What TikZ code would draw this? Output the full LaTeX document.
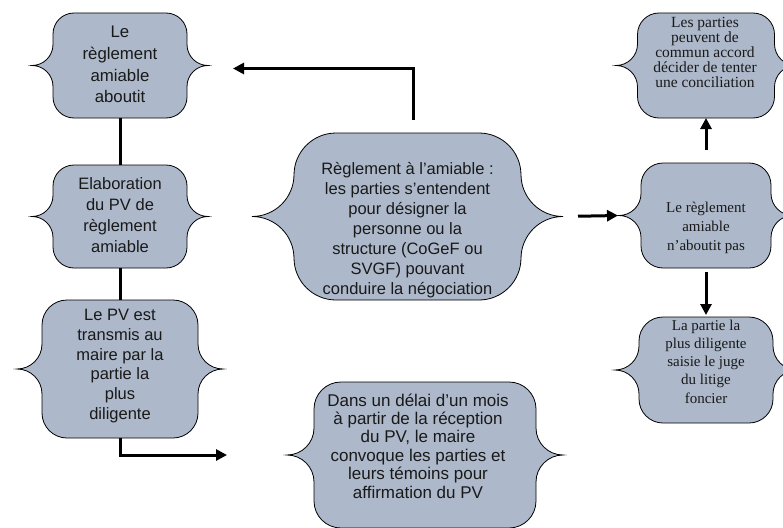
\documentclass[tikz,border=0pt]{standalone}
\usepackage{fontspec}
\setmainfont{Liberation Sans}
\newfontfamily\tms{Liberation Serif}
\usetikzlibrary{arrows.meta}
\definecolor{boxfill}{HTML}{ADB9CA}

% Double-brace box: name, left tip x, top y, right tip x, bottom y, brace radius
% (pixel-style coordinates, y measured downwards)
\newcommand\bracebox[6]{%
  \draw[bracestyle] ({#2+2*#6},{-#3}) arc[start angle=90,end angle=180,radius=#6]
    -- ({#2+#6},{-(#3+#5)/2+#6}) arc[start angle=0,end angle=-90,radius=#6]
    arc[start angle=90,end angle=0,radius=#6]
    -- ({#2+#6},{-#5+#6}) arc[start angle=180,end angle=270,radius=#6]
    -- ({#4-2*#6},{-#5}) arc[start angle=270,end angle=360,radius=#6]
    -- ({#4-#6},{-(#3+#5)/2-#6}) arc[start angle=180,end angle=90,radius=#6]
    arc[start angle=270,end angle=180,radius=#6]
    -- ({#4-#6},{-#3-#6}) arc[start angle=0,end angle=90,radius=#6] -- cycle;
  \node[frame, minimum width={(#4-#2)*1pt}, minimum height={(#5-#3)*1pt}]
    (#1) at ({(#2+#4)/2},{-(#3+#5)/2}) {};
}

\tikzset{
  bracestyle/.style={fill=boxfill, draw=black, line width=0.8pt},
  frame/.style={draw=none, inner sep=0pt, outer sep=0pt},
  sans/.style={align=center, inner sep=0pt, text=black!90},
  serif/.style={align=center, inner sep=0pt, text=black!90},
  link/.style={line width=3pt},
  arrowlink/.style={line width=3pt, -{Triangle[length=11pt,width=11pt]}},
}

\begin{document}
\begin{tikzpicture}[x=1pt, y=1pt]
\useasboundingbox (0,0) rectangle (783,-527);

% left column
\bracebox{l1}{32}{13}{208}{118}{21}
\bracebox{l2}{32}{165}{208}{268}{21}
\bracebox{l3}{17}{300}{223}{438}{25}
% centre
\bracebox{c}{252}{133}{563}{300}{42}
\bracebox{b}{287}{382}{563}{528}{27}
% right column
\bracebox{r1}{616}{13}{796}{118}{21.5}
\bracebox{r2}{619}{163}{793}{268}{22}
\bracebox{r3}{615}{317}{797}{423}{24}

% texts
\node[sans, font=\fontsize{16.8}{21.7}\selectfont] (l1t) at (120,-64.5)
  {Le\\règlement\\amiable\\aboutit};
\node[sans, font=\fontsize{16.5}{21}\selectfont] (l2t) at (120,-215)
  {Elaboration\\du PV de\\règlement\\amiable};
\node[sans, font=\fontsize{16.5}{19.7}\selectfont] (l3t) at (120,-366)
  {Le PV est\\transmis au\\maire par la\\partie la\\plus\\diligente};
\node[sans, font=\fontsize{16.5}{20}\selectfont] (ct) at (407.5,-230)
  {Règlement à l’amiable :\\les parties s’entendent\\pour désigner la\\personne ou la\\structure (CoGeF ou\\SVGF) pouvant\\conduire la négociation};
\node[sans, font=\fontsize{17}{18.4}\selectfont] (bt) at (418,-446)
  {Dans un délai d’un mois\\à partir de la réception\\du PV, le maire\\convoque les parties et\\leurs témoins pour\\affirmation du PV};
\node[serif, font=\tms\fontsize{15.5}{15}\selectfont] (r1t) at (705,-52)
  {Les parties\\peuvent de\\commun accord\\décider de tenter\\une conciliation};
\node[serif, font=\tms\fontsize{15}{19.3}\selectfont] (r2t) at (706,-228)
  {Le règlement\\amiable\\n’aboutit pas};
\node[serif, font=\tms\fontsize{15}{18.3}\selectfont] (r3t) at (706,-361.5)
  {La partie la\\plus diligente\\saisie le juge\\du litige\\foncier};

% connectors
\draw[link] (l1.south) -- (l2.north);
\draw[link] (l2.south) -- (l3.north);
\draw[arrowlink, shorten >=60pt] (l3.south) |- (b.west);
\draw[arrowlink, shorten <=13pt, shorten >=25pt]
  ([xshift=5.5pt]c.north) |- ([yshift=-3pt]l1.east);
\draw[arrowlink, shorten <=15pt, shorten >=1pt] (c.east) -- (r2.west);
\draw[arrowlink, shorten <=13pt] (r2.north) -- (r1.south);
\draw[arrowlink, shorten <=4pt, shorten >=2pt] (r2.south) -- (r3.north);
\end{tikzpicture}
\end{document}
